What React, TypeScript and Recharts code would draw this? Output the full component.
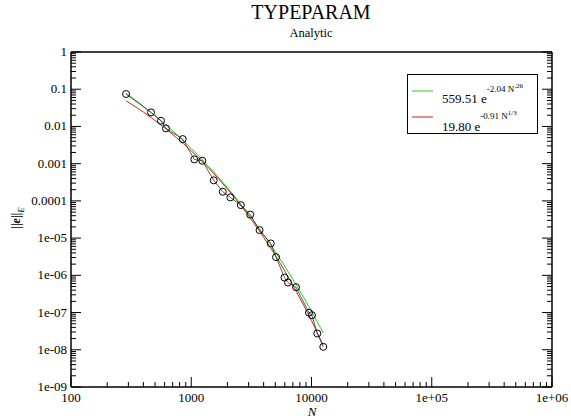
import { LineChart, Line, XAxis, YAxis, Legend, Label } from 'recharts';

const nValues = [287, 463, 560, 616, 849, 1060, 1236, 1538, 1828, 2115, 2584, 3093, 3697, 4582, 5070, 5960, 6380, 7430, 9530, 10090, 11170, 12530];
const errValues = [0.0743, 0.0239, 0.0142, 0.0089, 0.00458, 0.0013, 0.0012, 0.000356, 0.000176, 0.000124, 7.7e-5, 4.28e-5, 1.64e-5, 7.2e-6, 3.08e-6, 8.7e-7, 6.4e-7, 4.8e-7, 9.9e-8, 8.5e-8, 2.74e-8, 1.2e-8];

// fitted curves, sampled along the drawn lines
const fitN = [287, 400, 550, 750, 1000, 1400, 2000, 2800, 4000, 5500, 7500, 10000, 12500];
const greenFit = [0.0775, 0.0347, 0.01505, 0.00621, 0.00256, 0.000833, 0.000227, 5.9e-5, 1.24e-5, 2.71e-6, 5.4e-7, 1.08e-7, 2.84e-8];
const redFit = [0.0489, 0.0243, 0.01145, 0.00508, 0.00221, 0.000751, 0.000208, 5.33e-5, 1.05e-5, 2.09e-6, 3.64e-7, 6.05e-8, 1.33e-8];

const xMajor = [100, 1000, 10000, 100000, 1000000];
const xMajorLabels = ['100', '1000', '10000', '1e+05', '1e+06'];
const yMajor = [1, 0.1, 0.01, 0.001, 0.0001, 1e-5, 1e-6, 1e-7, 1e-8, 1e-9];
const yMajorLabels = ['1', '0.1', '0.01', '0.001', '0.0001', '1e-05', '1e-06', '1e-07', '1e-08', '1e-09'];
const minorSteps = [2, 3, 4, 5, 6, 7, 8, 9];

const xTicks = xMajor.flatMap((m, i) => (i < xMajor.length - 1 ? [m, ...minorSteps.map((k) => m * k)] : [m]));
const yTicks = yMajor.flatMap((m, i) => (i > 0 ? [m, ...minorSteps.map((k) => m * k)] : [m]));

const dataPoints = nValues.map((n, i) => ({ n, err: errValues[i] }));
const greenData = fitN.map((n, i) => ({ n, v: greenFit[i] }));
const redData = fitN.map((n, i) => ({ n, v: redFit[i] }));

const FONT = 'Liberation Serif, DejaVu Serif, serif';

const near = (a: number, list: number[]) => list.findIndex((m) => Math.abs(a - m) / m < 1e-6);

const XTick = ({ x, y, payload, top }: any) => {
  const idx = near(payload.value, xMajor);
  const len = idx >= 0 ? 10 : 5;
  const dir = top ? 1 : -1;
  return (
    <g>
      <line x1={x} x2={x} y1={y} y2={y + dir * len} stroke="#000" strokeWidth={1} />
      {!top && idx >= 0 && (
        <text x={x} y={y + 15} textAnchor="middle" fontFamily={FONT} fontSize={13} fill="#000">
          {xMajorLabels[idx]}
        </text>
      )}
    </g>
  );
};

const YTick = ({ x, y, payload, right }: any) => {
  const idx = near(payload.value, yMajor);
  const len = idx >= 0 ? 10 : 5;
  const dir = right ? -1 : 1;
  return (
    <g>
      <line x1={x} x2={x + dir * len} y1={y} y2={y} stroke="#000" strokeWidth={1} />
      {!right && idx >= 0 && (
        <text x={x - 4} y={y + 4} textAnchor="end" fontFamily={FONT} fontSize={13} fill="#000">
          {yMajorLabels[idx]}
        </text>
      )}
    </g>
  );
};

const Circle = ({ cx, cy }: any) => <circle cx={cx} cy={cy} r={3.5} fill="none" stroke="#000" strokeWidth={1} />;

const LegendBox = () => (
  <svg width={131} height={60} style={{ display: 'block' }}>
    <rect x={0.5} y={0.5} width={130} height={59} fill="#fff" stroke="#000" strokeWidth={1} />
    <line x1={5} x2={26} y1={17} y2={17} stroke="#22cc22" strokeWidth={1} />
    <text x={35} y={29} fontFamily={FONT} fontSize={13} fill="#000">
      559.51 e
      <tspan dy={-11} fontSize={9}>-2.04 N</tspan>
      <tspan dy={-4} fontSize={7}>.26</tspan>
    </text>
    <line x1={5} x2={26} y1={43} y2={43} stroke="#cc2222" strokeWidth={1} />
    <text x={35} y={57} fontFamily={FONT} fontSize={13} fill="#000">
      19.80 e
      <tspan dy={-12} fontSize={9}>-0.91 N</tspan>
      <tspan dy={-4} fontSize={7}>1/3</tspan>
    </text>
  </svg>
);

export default function App() {
  return (
    <div style={{ position: 'absolute', left: 0, top: 0, width: 571, height: 419, background: '#fff', fontFamily: FONT }}>
      <div style={{ position: 'absolute', left: 0, top: 0, width: 571, textAlign: 'center', pointerEvents: 'none', zIndex: 2 }}>
        <div style={{ position: 'absolute', left: 211, width: 200, top: 0, fontSize: 20, lineHeight: '24px' }}>TYPEPARAM</div>
        <div style={{ position: 'absolute', left: 211, width: 200, top: 25, fontSize: 12.5, lineHeight: '16px' }}>Analytic</div>
      </div>
      <LineChart width={571} height={419} margin={{ top: 51, right: 18, bottom: 0, left: 0 }}>
        <XAxis
          dataKey="n"
          type="number"
          scale="log"
          domain={[100, 1000000]}
          allowDataOverflow
          ticks={xTicks}
          interval={0}
          tickSize={0}
          tickMargin={0}
          height={32}
          axisLine={{ stroke: '#000', strokeWidth: 1.5 }}
          tick={<XTick />}
        >
          <Label
            content={() => (
              <text x={312} y={416} textAnchor="middle" fontFamily={FONT} fontStyle="italic" fontSize={13} fill="#000">
                N
              </text>
            )}
          />
        </XAxis>
        <XAxis
          xAxisId="top"
          orientation="top"
          type="number"
          scale="log"
          domain={[100, 1000000]}
          allowDataOverflow
          ticks={xTicks}
          interval={0}
          tickSize={0}
          tickMargin={0}
          height={1}
          axisLine={{ stroke: '#000', strokeWidth: 1.5 }}
          tick={<XTick top />}
        />
        <YAxis
          type="number"
          scale="log"
          domain={[1e-9, 1]}
          allowDataOverflow
          ticks={yTicks}
          interval={0}
          tickSize={0}
          tickMargin={0}
          width={71}
          axisLine={{ stroke: '#000', strokeWidth: 1.5 }}
          tick={<YTick />}
        >
          <Label
            content={() => (
              <text x={20} y={218} transform="rotate(-90 20 218)" textAnchor="middle" fontFamily={FONT} fontSize={12} fontWeight="bold" fill="#000">
                ||<tspan fontStyle="italic">e</tspan>||
                <tspan dy={4} fontSize={9} fontStyle="italic" fontWeight="normal">E</tspan>
              </text>
            )}
          />
        </YAxis>
        <YAxis
          yAxisId="right"
          orientation="right"
          type="number"
          scale="log"
          domain={[1e-9, 1]}
          allowDataOverflow
          ticks={yTicks}
          interval={0}
          tickSize={0}
          tickMargin={0}
          width={1}
          axisLine={{ stroke: '#000', strokeWidth: 1.5 }}
          tick={<YTick right />}
        />
        <Line data={greenData} dataKey="v" type="monotone" stroke="#22cc22" strokeWidth={1} dot={false} isAnimationActive={false} />
        <Line data={redData} dataKey="v" type="monotone" stroke="#cc2222" strokeWidth={1} dot={false} isAnimationActive={false} />
        <Line data={dataPoints} dataKey="err" type="linear" stroke="#333" strokeWidth={0.8} dot={<Circle />} isAnimationActive={false} />
        <Legend
          layout="vertical"
          align="center"
          verticalAlign="middle"
          wrapperStyle={{ position: 'absolute', left: 407, top: 74, width: 131, height: 60 }}
          content={() => <LegendBox />}
        />
      </LineChart>
    </div>
  );
}
